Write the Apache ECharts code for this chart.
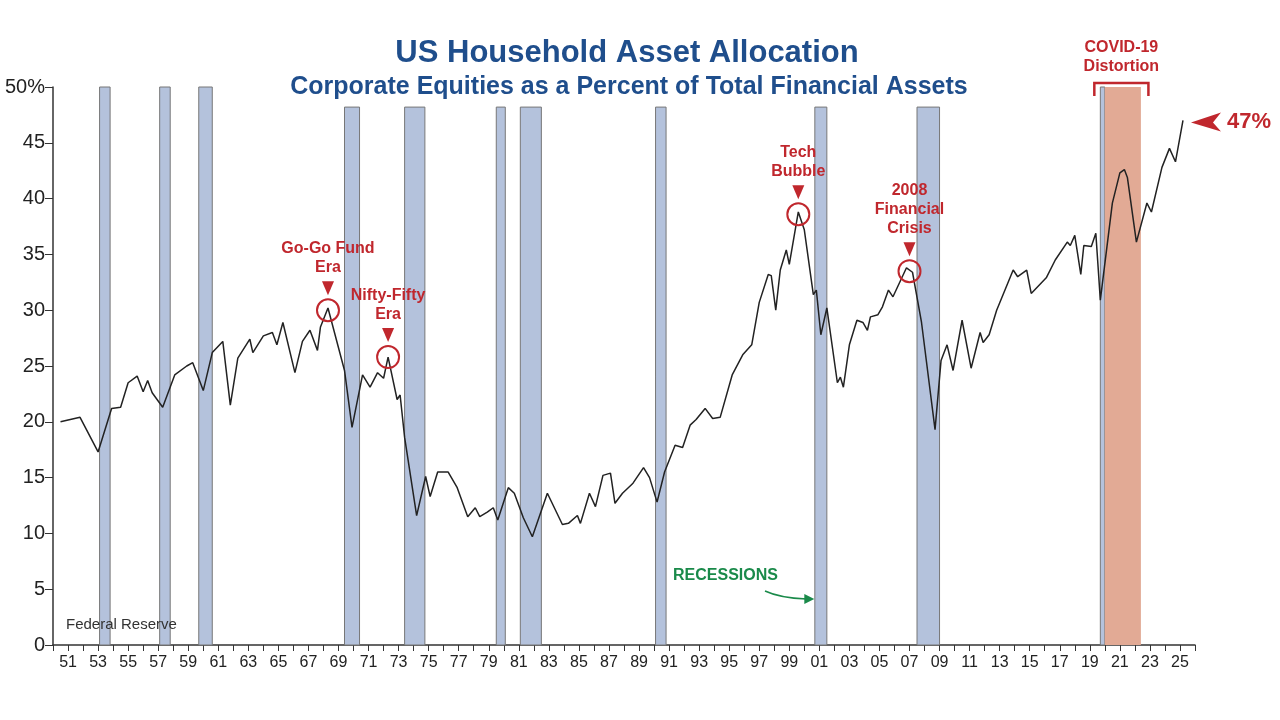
<!DOCTYPE html>
<html><head><meta charset="utf-8">
<script src="https://cdn.jsdelivr.net/npm/echarts@6/dist/echarts.min.js"></script>
<style>html,body{margin:0;padding:0;background:#fff}#c{width:1280px;height:720px}</style>
</head><body><div id="c"></div>
<script>
const years = [1950.5,1951.8,1953.0,1953.9,1954.5,1955.0,1955.6,1956.0,1956.3,1956.6,1957.3,1958.1,1958.9,1959.3,1960.0,1960.6,1961.3,1961.8,1962.3,1963.1,1963.3,1964.0,1964.6,1964.9,1965.3,1966.1,1966.6,1967.1,1967.6,1967.8,1968.3,1969.4,1969.9,1970.6,1971.1,1971.6,1972.0,1972.3,1972.9,1973.1,1973.4,1974.2,1974.3,1974.8,1975.1,1975.6,1976.3,1976.9,1977.6,1978.1,1978.4,1978.9,1979.3,1979.6,1980.3,1980.7,1981.3,1981.9,1982.9,1983.9,1984.3,1984.9,1985.1,1985.7,1986.1,1986.6,1987.1,1987.4,1987.9,1988.6,1989.3,1989.7,1990.2,1990.7,1991.4,1991.9,1992.4,1992.8,1993.4,1993.9,1994.4,1995.2,1995.9,1996.5,1997.0,1997.6,1997.8,1998.1,1998.4,1998.8,1999.0,1999.6,2000.0,2000.6,2000.8,2001.1,2001.5,2002.2,2002.4,2002.6,2003.0,2003.5,2003.9,2004.2,2004.4,2004.9,2005.2,2005.6,2005.9,2006.8,2007.2,2007.8,2008.7,2009.1,2009.5,2009.9,2010.5,2011.1,2011.7,2011.9,2012.3,2012.8,2013.9,2014.2,2014.8,2015.1,2016.1,2016.7,2017.5,2017.7,2018.0,2018.4,2018.6,2019.1,2019.4,2019.7,2020.5,2021.0,2021.3,2021.5,2022.1,2022.8,2023.1,2023.8,2024.3,2024.7,2025.2];
const equityPct = [20.0,20.4,17.3,21.2,21.3,23.5,24.1,22.7,23.7,22.6,21.3,24.2,25.0,25.3,22.8,26.2,27.2,21.5,25.7,27.4,26.2,27.7,28.0,26.9,28.9,24.4,27.2,28.2,26.4,28.5,30.2,24.6,19.5,24.2,23.1,24.4,23.9,25.8,22.0,22.4,18.6,11.6,11.6,15.1,13.3,15.5,15.5,14.1,11.5,12.3,11.5,11.9,12.3,11.2,14.1,13.6,11.4,9.7,13.6,10.8,10.9,11.6,10.9,13.6,12.4,15.2,15.4,12.7,13.6,14.5,15.9,15.0,12.8,15.5,17.9,17.7,19.7,20.2,21.2,20.3,20.4,24.2,26.0,26.9,30.7,33.2,33.1,30.0,33.6,35.4,34.1,38.8,37.2,31.4,31.8,27.8,30.2,23.5,24.0,23.1,26.9,29.1,28.9,28.2,29.4,29.6,30.3,31.8,31.2,33.8,33.4,28.9,19.3,25.5,26.9,24.6,29.1,24.8,28.0,27.1,27.8,30.0,33.6,33.0,33.6,31.5,32.9,34.5,36.1,35.8,36.7,33.2,35.8,35.7,36.9,30.9,39.6,42.3,42.6,41.9,36.1,39.6,38.8,42.8,44.5,43.3,47.0];
const recessions = [[1953.1,1953.8,50.3],[1957.1,1957.8,50.3],[1959.7,1960.6,50.3],[1969.4,1970.4,48.2],[1973.4,1974.75,48.2],[1979.5,1980.1,48.2],[1981.1,1982.5,48.2],[1990.1,1990.8,48.2],[2000.7,2001.5,48.2],[2007.5,2009.0,48.2],[2019.7,2020.0,50.0]];
const covid = [2020.0,2022.4,50.0];
const annotations = [
  {name:'Go-Go Fund\nEra', x:1968.3, y:30.0},
  {name:'Nifty-Fifty\nEra', x:1972.3, y:25.8},
  {name:'Tech\nBubble', x:1999.6, y:38.6},
  {name:'2008\nFinancial\nCrisis', x:2007.0, y:33.5}
];
const yTicks = [0,5,10,15,20,25,30,35,40,45,50];

const red = '#c0272d';
const chart = echarts.init(document.getElementById('c'));
const areaData = recessions.map(r => [{xAxis:r[0], yAxis:0},{xAxis:r[1], yAxis:r[2]}]);
chart.setOption({
  animation:false,
  title:[{text:'US Household Asset Allocation', left:622, top:33, textAlign:'center',
          textStyle:{color:'#1f4e8c', fontSize:31, fontWeight:'bold', fontFamily:'Liberation Sans'}},
         {text:'Corporate Equities as a Percent of Total Financial Assets', left:624, top:70, textAlign:'center',
          textStyle:{color:'#1f4e8c', fontSize:25, fontWeight:'bold', fontFamily:'Liberation Sans'}}],
  grid:{left:53, right:85, top:87, bottom:75},
  xAxis:{type:'value', min:1950, max:2026, interval:1,
    axisLine:{lineStyle:{color:'#333', width:1.5}},
    axisTick:{length:6, lineStyle:{color:'#333'}},
    splitLine:{show:false},
    axisLabel:{color:'#222', fontSize:16, fontFamily:'Liberation Sans', margin:10,
      formatter:v => (v%2===1 ? String(v%100).padStart(2,'0') : '')}},
  yAxis:{type:'value', min:0, max:50, interval:5,
    axisLine:{show:true, lineStyle:{color:'#333', width:1.5}},
    axisTick:{show:true, inside:false, length:8, lineStyle:{color:'#333'}},
    splitLine:{show:false},
    axisLabel:{color:'#222', fontSize:20, fontFamily:'Liberation Sans',
      formatter:v => v===50 ? '50%' : (yTicks.includes(v)? String(v):'')}},
  series:[
    {type:'line', data:[], markArea:{silent:true,
      itemStyle:{color:'#b4c2dc', borderColor:'#777', borderWidth:1}, data:areaData}},
    {type:'line', data:[], markArea:{silent:true,
      itemStyle:{color:'#e2aa95'}, data:[[{xAxis:covid[0], yAxis:0},{xAxis:covid[1], yAxis:covid[2]}]]}},
    {type:'line', data:years.map((y,i)=>[y,equityPct[i]]), symbol:'none', z:5,
      lineStyle:{color:'#222', width:1.5}},
    {type:'scatter', z:6, data:annotations.map(a=>[a.x,a.y]), symbol:'circle', symbolSize:22,
      itemStyle:{color:'rgba(0,0,0,0)', borderColor:red, borderWidth:2, opacity:1}},
    {type:'scatter', z:6, data:annotations.map(a=>({value:[a.x,a.y], name:a.name})), symbol:'triangle', symbolRotate:180,
      symbolSize:[12,14], symbolOffset:[0,-22], itemStyle:{color:red, opacity:1},
      label:{show:true, position:'top', distance:4, formatter:p=>p.name, color:red, fontSize:16, fontWeight:'bold',
        fontFamily:'Liberation Sans', lineHeight:19, align:'center'}}
  ]
});
const p = (x,y)=>chart.convertToPixel({gridIndex:0},[x,y]);
const b0 = p(2019.3,0), b1 = p(2022.9,0);
const last = p(years[years.length-1], equityPct[equityPct.length-1]);
const rec = p(2000.8, 4);
chart.setOption({graphic:[
  {type:'polyline', z:100, shape:{points:[[b0[0],96],[b0[0],83],[b1[0],83],[b1[0],96]]}, style:{stroke:red, lineWidth:2.5, fill:null}},
  {type:'text', z:100, x:(b0[0]+b1[0])/2, y:38, style:{text:'COVID-19\nDistortion', fill:red, font:'bold 16px Liberation Sans', align:'center', lineHeight:19}},
  {type:'polygon', z:100, shape:{points:[[last[0]+8,last[1]+2],[last[0]+38,last[1]-8],[last[0]+30,last[1]+2],[last[0]+38,last[1]+11]]}, style:{fill:red}},
  {type:'text', z:100, x:last[0]+44, y:last[1]-10, style:{text:'47%', fill:red, font:'bold 22px Liberation Sans'}},
  {type:'text', z:100, x:66, y:617, style:{text:'Federal Reserve', fill:'#333', font:'15px Liberation Sans'}},
  {type:'text', z:100, x:673, y:568, style:{text:'RECESSIONS', fill:'#1a8a4a', font:'bold 16px Liberation Sans'}},
  {type:'bezierCurve', z:100, shape:{x1:765,y1:591,cpx1:780,cpy1:598,x2:rec[0]-10,y2:599}, style:{stroke:'#1a8a4a', lineWidth:1.5, fill:null}},
  {type:'polygon', z:100, shape:{points:[[rec[0]-2,599],[rec[0]-12,594],[rec[0]-12,604]]}, style:{fill:'#1a8a4a'}}
]});
</script></body></html>
